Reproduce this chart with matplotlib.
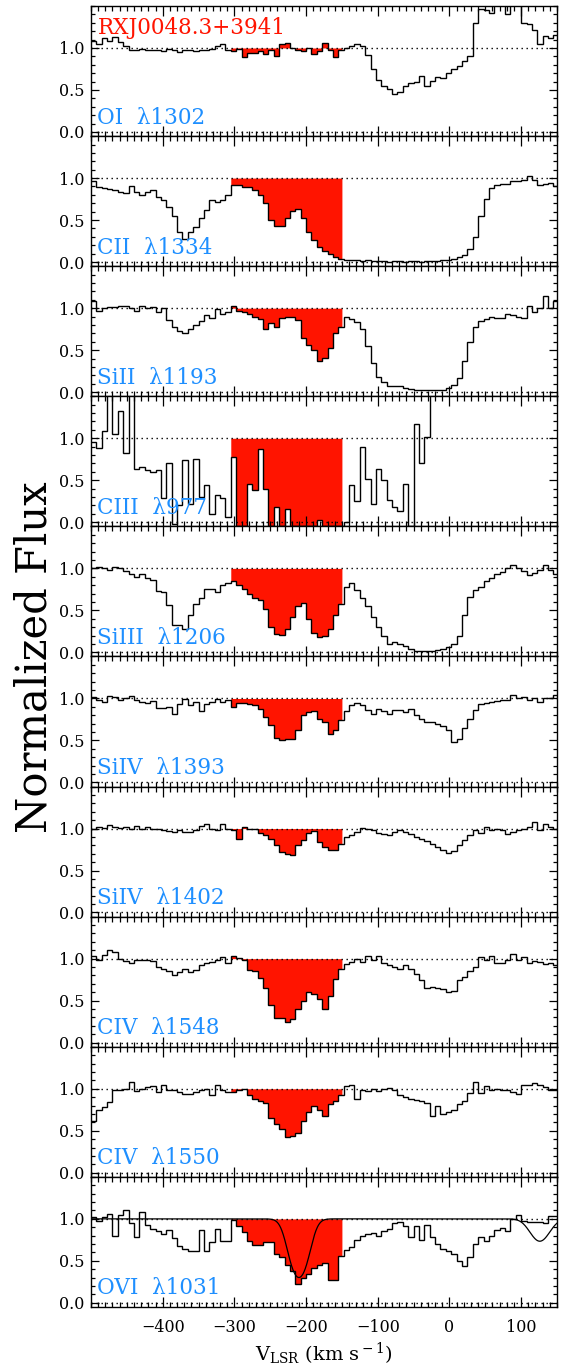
import numpy as np
import matplotlib
matplotlib.use("Agg")
import matplotlib.pyplot as plt
from matplotlib.ticker import MultipleLocator, FixedLocator, FormatStrFormatter

plt.rcParams["font.family"] = ["DejaVu Serif"]
plt.rcParams["mathtext.fontset"] = "dejavuserif"

TARGET = "RXJ0048.3+3941"

# spectra are rebinned onto a common velocity grid (bin edges in km/s)
BIN_START = -500.0
BIN_WIDTH = 7.5
N_BINS = 87
V_INT = (-305.0, -150.0)   # HVC integration window

X_TICKS = [-400, -300, -200, -100, 0, 100]
Y_TICKS = [0.0, 0.5, 1.0]

oi_1302 = [
    1.08, 1.05, 1.12, 1.08, 1.13, 1.07, 1.02, 0.98, 0.98, 0.99, 0.98, 0.97, 0.98, 0.96, 0.99, 0.97, 0.95, 0.97, 0.98, 0.96,
    0.98, 0.97, 0.99, 1.02, 1.05, 0.98, 0.96, 0.99, 0.89, 0.94, 0.94, 0.96, 0.93, 0.97, 0.90, 1.05, 1.06, 1.00, 0.98, 0.96,
    1.00, 0.93, 0.96, 1.06, 0.97, 0.89, 0.98, 1.00, 1.02, 1.05, 1.02, 0.92, 0.75, 0.62, 0.55, 0.51, 0.45, 0.48, 0.55, 0.58,
    0.59, 0.67, 0.55, 0.61, 0.65, 0.64, 0.70, 0.75, 0.78, 0.85, 0.90, 1.30, 1.47, 1.45, 1.42, 1.60, 1.60, 1.40, 1.60, 1.60,
    1.30, 1.28, 1.22, 1.05, 1.14, 1.12, 1.15]

cii_1334 = [
    0.97, 0.89, 0.88, 0.87, 0.86, 0.84, 0.82, 0.90, 0.84, 0.80, 0.83, 0.86, 0.78, 0.74, 0.66, 0.55, 0.36, 0.28, 0.36, 0.42,
    0.52, 0.62, 0.74, 0.72, 0.74, 0.80, 0.92, 0.92, 0.89, 0.89, 0.86, 0.80, 0.70, 0.50, 0.43, 0.43, 0.53, 0.61, 0.63, 0.52,
    0.36, 0.26, 0.18, 0.13, 0.10, 0.06, 0.03, 0.02, 0.02, 0.02, 0.01, 0.02, 0.01, 0.01, 0.01, 0.00, 0.01, 0.01, 0.00, 0.01,
    0.01, 0.00, 0.01, 0.01, 0.01, 0.02, 0.02, 0.04, 0.06, 0.08, 0.15, 0.30, 0.55, 0.75, 0.88, 0.92, 0.93, 0.93, 0.96, 0.96,
    0.98, 1.02, 0.98, 0.92, 0.93, 0.94, 0.91]

siii_1193 = [
    1.08, 0.97, 1.00, 1.01, 1.01, 1.02, 1.03, 1.00, 0.97, 1.03, 1.00, 1.01, 0.95, 1.00, 0.86, 0.78, 0.73, 0.70, 0.75, 0.80,
    0.85, 0.92, 0.88, 0.99, 0.93, 0.96, 1.02, 0.97, 0.95, 0.93, 0.90, 0.87, 0.75, 0.82, 0.78, 0.88, 0.90, 0.90, 0.86, 0.65,
    0.56, 0.50, 0.37, 0.41, 0.52, 0.70, 0.77, 0.90, 0.87, 0.84, 0.75, 0.55, 0.35, 0.18, 0.12, 0.07, 0.07, 0.07, 0.05, 0.04,
    0.03, 0.03, 0.02, 0.03, 0.03, 0.03, 0.05, 0.08, 0.17, 0.37, 0.60, 0.78, 0.85, 0.87, 0.89, 0.88, 0.88, 0.93, 0.92, 0.90,
    0.88, 1.03, 0.95, 1.00, 1.15, 1.00, 1.08]

# values above the plot range (geocoronal/airglow contamination) set to 2.0
ciii_977 = [
    0.95, 0.88, 1.09, 2.00, 1.05, 1.33, 0.82, 2.00, 0.63, 0.66, 0.62, 0.60, 0.62, 0.29, 0.70, -0.02, 0.20, 0.74, 0.22, 0.75,
    0.30, 0.44, 0.10, 0.32, 0.29, 0.06, 0.78, -0.04, -0.04, 0.46, 0.38, 0.87, 0.40, -0.04, 0.18, -0.04, 0.16, -0.04, -0.04, -0.04,
    -0.04, -0.04, 0.03, -0.04, -0.04, -0.04, -0.04, 0.00, 0.44, 0.25, 0.90, 0.51, 0.22, 0.63, 0.50, 0.26, 0.18, 0.13, 0.45, -0.04,
    1.17, 0.70, 1.02, 2.00, 2.00, 2.00, 2.00, 2.00, 2.00, 2.00, 2.00, 2.00, 2.00, 2.00, 2.00, 2.00, 2.00, 2.00, 2.00, 2.00,
    2.00, 2.00, 2.00, 2.00, 2.00, 2.00, 2.00]

siiii_1206 = [
    1.00, 1.02, 1.00, 0.98, 1.02, 1.00, 0.97, 0.93, 0.90, 0.93, 0.88, 0.86, 0.73, 0.72, 0.56, 0.33, 0.32, 0.28, 0.45, 0.58,
    0.65, 0.76, 0.75, 0.72, 0.80, 0.82, 0.85, 0.80, 0.75, 0.70, 0.65, 0.62, 0.52, 0.30, 0.22, 0.21, 0.28, 0.42, 0.55, 0.59,
    0.40, 0.23, 0.18, 0.19, 0.28, 0.45, 0.58, 0.78, 0.82, 0.74, 0.65, 0.55, 0.42, 0.30, 0.20, 0.10, 0.12, 0.10, 0.08, 0.04,
    0.02, 0.02, 0.02, 0.02, 0.03, 0.04, 0.06, 0.10, 0.20, 0.44, 0.66, 0.74, 0.78, 0.85, 0.88, 0.93, 0.96, 1.01, 1.04, 1.00,
    0.97, 0.92, 0.95, 0.98, 1.04, 0.98, 0.93]

siiv_1393 = [
    1.02, 0.98, 0.96, 1.03, 1.02, 0.98, 1.01, 1.03, 0.98, 0.96, 0.95, 0.97, 0.89, 0.89, 0.90, 0.82, 0.93, 0.99, 0.92, 0.96,
    0.85, 0.94, 0.96, 0.99, 0.96, 0.98, 0.90, 0.95, 0.95, 0.94, 0.92, 0.88, 0.78, 0.68, 0.53, 0.51, 0.52, 0.52, 0.62, 0.80,
    0.84, 0.85, 0.76, 0.72, 0.58, 0.62, 0.74, 0.85, 0.92, 0.95, 0.92, 0.86, 0.82, 0.88, 0.85, 0.82, 0.86, 0.86, 0.84, 0.88,
    0.80, 0.76, 0.72, 0.72, 0.70, 0.67, 0.62, 0.48, 0.52, 0.65, 0.75, 0.86, 0.93, 0.95, 0.96, 0.97, 0.98, 0.98, 1.04, 1.01,
    1.02, 0.98, 1.00, 0.96, 1.00, 1.00, 1.04]

siiv_1402 = [
    1.00, 1.02, 1.01, 1.04, 1.02, 1.01, 1.02, 1.00, 1.03, 1.00, 1.02, 1.00, 0.99, 0.98, 0.97, 0.96, 0.98, 0.96, 0.96, 0.98,
    1.03, 1.06, 1.00, 0.98, 1.05, 1.00, 0.98, 0.88, 1.02, 1.00, 0.99, 0.95, 0.92, 0.88, 0.80, 0.72, 0.70, 0.68, 0.80, 0.86,
    0.95, 0.97, 0.84, 0.78, 0.75, 0.75, 0.82, 0.90, 0.92, 0.96, 1.01, 1.00, 0.98, 0.95, 0.93, 0.92, 0.96, 0.98, 0.96, 0.93,
    0.90, 0.88, 0.85, 0.82, 0.78, 0.74, 0.71, 0.73, 0.80, 0.86, 0.92, 0.98, 0.95, 1.02, 0.98, 0.99, 0.98, 0.93, 0.96, 0.98,
    1.00, 1.02, 1.08, 0.98, 1.06, 1.02, 1.00]

civ_1548 = [
    1.03, 0.98, 1.04, 1.10, 1.08, 1.00, 0.97, 0.95, 0.98, 0.98, 0.98, 0.97, 0.90, 0.88, 0.85, 0.80, 0.84, 0.88, 0.84, 0.87,
    0.93, 0.95, 0.96, 0.98, 1.02, 0.95, 1.03, 1.01, 0.98, 0.87, 0.85, 0.77, 0.65, 0.45, 0.29, 0.29, 0.24, 0.28, 0.40, 0.50,
    0.60, 0.58, 0.52, 0.40, 0.55, 0.76, 0.88, 0.94, 0.96, 1.00, 0.96, 1.03, 0.98, 1.03, 0.95, 0.93, 0.90, 0.88, 0.92, 0.88,
    0.82, 0.75, 0.65, 0.66, 0.65, 0.64, 0.60, 0.62, 0.74, 0.78, 0.85, 0.90, 1.02, 0.98, 1.03, 0.95, 0.95, 0.98, 1.05, 0.98,
    1.02, 0.95, 0.97, 0.96, 0.94, 0.95, 0.92]

civ_1550 = [
    0.62, 0.75, 0.78, 0.84, 0.98, 0.98, 1.00, 1.08, 0.97, 1.00, 1.02, 1.03, 0.96, 1.04, 0.98, 0.98, 0.96, 0.94, 0.94, 0.96,
    0.98, 1.00, 0.92, 1.05, 0.98, 0.96, 0.96, 0.98, 1.00, 0.92, 0.88, 0.86, 0.83, 0.65, 0.58, 0.52, 0.42, 0.44, 0.47, 0.62,
    0.72, 0.79, 0.75, 0.68, 0.82, 0.86, 0.93, 1.03, 1.05, 0.88, 0.98, 0.97, 1.00, 0.97, 1.00, 1.01, 0.98, 0.92, 0.90, 0.88,
    0.87, 0.86, 0.83, 0.68, 0.80, 0.70, 0.72, 0.75, 0.82, 0.86, 0.95, 1.08, 0.95, 1.03, 0.98, 1.00, 0.98, 0.98, 0.96, 0.94,
    1.04, 1.05, 1.07, 1.05, 1.02, 0.99, 0.99]

ovi_1031 = [
    1.02, 0.98, 1.02, 1.06, 0.80, 1.05, 1.10, 0.95, 0.78, 1.08, 0.93, 0.88, 0.85, 0.82, 0.87, 0.77, 0.68, 0.64, 0.62, 0.62,
    0.87, 0.62, 0.72, 0.88, 0.74, 0.74, 0.99, 0.91, 0.84, 0.74, 0.69, 0.69, 0.73, 0.72, 0.58, 0.55, 0.45, 0.38, 0.22, 0.30,
    0.34, 0.41, 0.45, 0.47, 0.27, 0.27, 0.56, 0.63, 0.66, 0.75, 0.80, 0.82, 0.83, 0.80, 0.85, 0.88, 0.95, 0.96, 0.92, 0.78,
    0.92, 0.75, 0.93, 0.78, 0.70, 0.64, 0.62, 0.58, 0.50, 0.44, 0.55, 0.70, 0.78, 0.74, 0.80, 0.87, 0.89, 0.86, 1.00, 1.05,
    0.98, 0.96, 0.96, 0.96, 0.95, 1.04, 1.04]

# O VI model components: centroid (km/s), central optical depth, b-value (km/s)
ovi_v0 = [-210.0, 126.0]
ovi_tau0 = [1.20, 0.31]
ovi_b = [16.5, 18.0]

panels = [
    ("OI  λ1302", oi_1302),
    ("CII  λ1334", cii_1334),
    ("SiII  λ1193", siii_1193),
    ("CIII  λ977", ciii_977),
    ("SiIII  λ1206", siiii_1206),
    ("SiIV  λ1393", siiv_1393),
    ("SiIV  λ1402", siiv_1402),
    ("CIV  λ1548", civ_1548),
    ("CIV  λ1550", civ_1550),
    ("OVI  λ1031", ovi_1031),
]

RED = "#ff1400"
BLUE = "#1e8fff"

edges = BIN_START + BIN_WIDTH * np.arange(N_BINS + 1)

fig = plt.figure(figsize=(5.64, 13.66), dpi=100)
axes = fig.subplots(len(panels), 1, sharex=True)
fig.subplots_adjust(left=0.1613, right=0.9876, bottom=0.0432, top=0.9956, hspace=0)

for ax, (label, flux) in zip(axes, panels):
    flux = np.asarray(flux)

    # shade absorption inside the integration window
    vf = np.linspace(V_INT[0], V_INT[1], 2000)
    idx = np.clip(np.searchsorted(edges, vf, side="right") - 1, 0, N_BINS - 1)
    ax.fill_between(vf, flux[idx], 1.0, color=RED, lw=0, zorder=1)

    ax.axhline(1.0, color="k", lw=1.0, ls=(0, (1, 2.6)), zorder=2)
    ax.axhline(0.0, color="k", lw=1.0, ls=(0, (1, 2.6)), zorder=2)
    ax.stairs(flux, edges, color="k", lw=1.0, baseline=None, zorder=3)

    ax.text(-491, 0.1, label, color=BLUE, fontsize=15.5, ha="left", va="baseline", zorder=5)

    ax.set_xlim(-500, 150)
    ax.set_ylim(-0.05, 1.5)
    ax.xaxis.set_major_locator(FixedLocator(X_TICKS))
    ax.xaxis.set_minor_locator(MultipleLocator(10))
    ax.yaxis.set_major_locator(FixedLocator(Y_TICKS))
    ax.yaxis.set_minor_locator(MultipleLocator(0.1))
    ax.yaxis.set_major_formatter(FormatStrFormatter("%.1f"))
    ax.tick_params(which="both", direction="in", top=True, right=True, width=0.9, labelsize=11.5)
    ax.tick_params(axis="x", which="major", length=7, pad=9)
    ax.tick_params(axis="x", which="minor", length=3.5)
    ax.tick_params(axis="y", which="major", length=6, pad=5)
    ax.tick_params(axis="y", which="minor", length=3)
    for sp in ax.spines.values():
        sp.set_linewidth(1.0)

# O VI apparent optical depth model
vm = np.linspace(-500, 150, 1300)
tau = np.zeros_like(vm)
for v0, t0, b in zip(ovi_v0, ovi_tau0, ovi_b):
    tau += t0 * np.exp(-((vm - v0) / b) ** 2)
axes[-1].plot(vm, np.exp(-tau), color="k", lw=0.9, zorder=4)

axes[0].text(-491, 1.17, TARGET, color=RED, fontsize=15.5, ha="left", va="baseline", zorder=5)

axes[-1].set_xlabel(r"V$_{\rm LSR}$ (km s$^{\rm -1}$)", fontsize=14, labelpad=3)
fig.text(0.062, 0.519, "Normalized Flux", rotation=90, fontsize=30, ha="center", va="center")

fig.savefig("out.png", dpi=100)
